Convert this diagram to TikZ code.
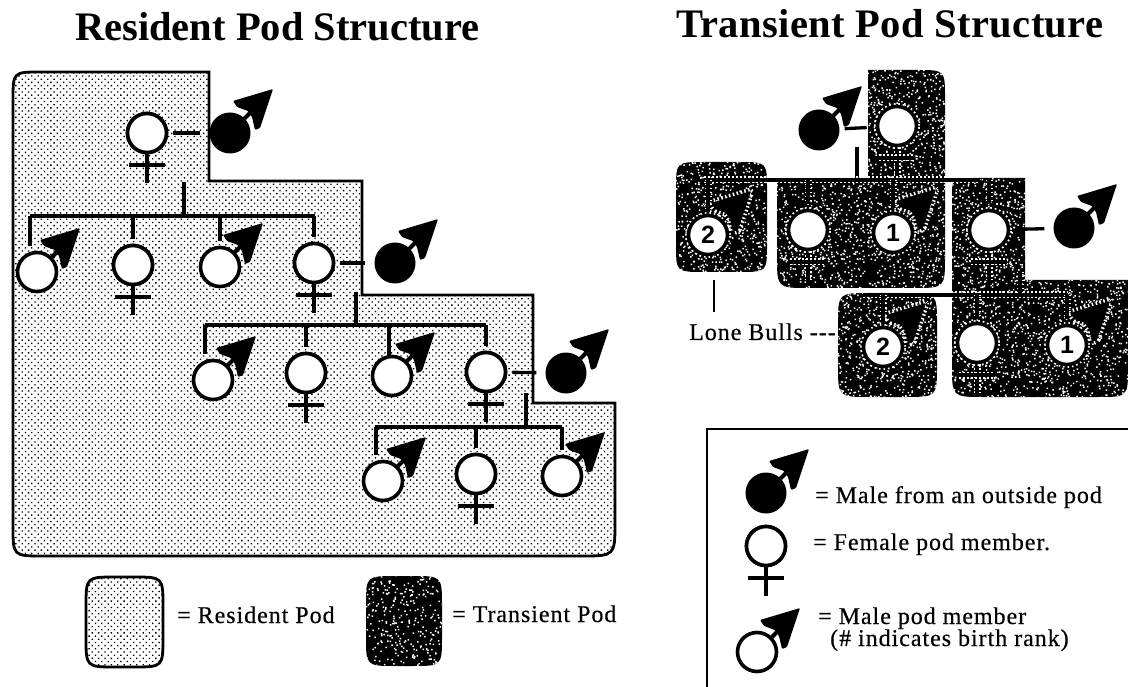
\documentclass[tikz,border=0pt]{standalone}
\usepackage{fontspec}
\setmainfont{Liberation Serif}
\newfontfamily\numfont{Liberation Sans}
\newfontfamily\legfont[LetterSpace=4,FakeBold=0.5]{Liberation Serif}
\newfontfamily\titlefont[LetterSpace=1]{Liberation Serif Bold}
\newfontfamily\titlefontb{Liberation Serif Bold}
\usetikzlibrary{patterns.meta}
\tikzset{
  symextra/.style={},
  haloed/.style={preaction={draw=white,line width=7pt,dash pattern=on 1.5pt off 2.5pt}},
  sym/.style={line width=4.2pt,black,symextra},
  linkline/.style={line width=3.3pt,black,symextra},
  dropline/.style={linkline,shorten >=5pt},
  spouse/.style={linkline,shorten <=5pt,shorten >=9pt},
  podcircle/.style={circle,draw=black,line width=3.6pt,fill=white,inner sep=0pt,minimum size=39pt,font=\numfont\bfseries\fontsize{25}{25}\selectfont,symextra},
  outsider/.style={circle,fill=black,inner sep=0pt,minimum size=41pt},
  residentfill/.style={pattern={Dots[distance=4.5pt,radius=0.95pt,angle=45]},pattern color=black},
  outline/.style={draw=black,line width=2.8pt},
  titletext/.style={font=\titlefont\fontsize{40.5}{40.5}\selectfont,anchor=base west,inner sep=0pt},
  titletextb/.style={font=\titlefontb\fontsize{40.5}{40.5}\selectfont,anchor=base west,inner sep=0pt},
  legendtext/.style={font=\legfont\fontsize{24}{24}\selectfont,anchor=base west,inner sep=0pt},
}
\newcommand{\malehead}[2]{%
  \begin{scope}[shift={(#1,#2)}]
    \draw[sym] (0,0) -- (25,-25);
    \fill[black,rounded corners=1pt,symextra] (43,-44) -- (3,-32) -- (7,-26) -- (18,-22) -- (22,-16) -- (25,-3) -- (30,-5) -- cycle;
  \end{scope}}
\newcommand{\fem}[3]{%
  \node[podcircle] (#1) at (#2,#3) {};
  \coordinate (#1end) at (#2,#3+50);
  \coordinate (#1bl) at (#2-18,#3+32);
  \coordinate (#1br) at (#2+18,#3+32);
  \draw[sym] (#1) -- (#1end);
  \node[podcircle] at (#1) {};
  \draw[sym] (#1bl) -- (#1br);}
\newcommand{\pmale}[4]{%
  \malehead{#2}{#3}
  \node[podcircle] (#1) at (#2,#3) {#4};}
\newcommand{\omale}[3]{%
  \malehead{#2}{#3}
  \node[outsider] (#1) at (#2,#3) {};}
\newcommand{\speckle}{%
  \pgfmathsetseed{4217}
  \foreach \j in {1,...,40}{\fill[white] \foreach \i in {1,...,200}{ ({665+rnd*463},{65+rnd*340}) rectangle ++(1.5,1.5) };}}
\newcommand{\speckleb}{%
  \pgfmathsetseed{88}
  \fill[white] \foreach \i in {1,...,320}{ ({362+rnd*84},{574+rnd*95}) rectangle ++(1.5,1.5) };}
\newcommand{\residentpath}{(13,100) .. controls (13,72) .. (41,72) -- (209,72) -- (209,181) -- (362,181) -- (362,295) -- (533,295) -- (533,403) -- (615,403) -- (615,522) .. controls (615,556) .. (581,556) -- (43,556) .. controls (13,556) .. (13,526) -- cycle}
\newcommand{\transpath}{%
  (868,70) -- (917,70) .. controls (945,70) .. (945,98) -- (945,256) .. controls (945,288) .. (913,288) -- (809,288) .. controls (777,288) .. (777,256) -- (777,180) -- (868,180) -- cycle
  (972,178) -- (1025,178) -- (1025,280) -- (1128,280) -- (1128,367) .. controls (1128,397) .. (1098,397) -- (984,397) .. controls (952,397) .. (952,365) -- (952,198) .. controls (952,178) .. (972,178) -- cycle
  (704,162) -- (739,162) .. controls (767,162) .. (767,190) -- (767,244) .. controls (767,272) .. (739,272) -- (704,272) .. controls (676,272) .. (676,244) -- (676,190) .. controls (676,162) .. (704,162) -- cycle
  (870,293) -- (905,293) .. controls (937,293) .. (937,325) -- (937,365) .. controls (937,397) .. (905,397) -- (870,397) .. controls (838,397) .. (838,365) -- (838,325) .. controls (838,293) .. (870,293) -- cycle}
\newcommand{\swatchA}{(116,577) -- (133,577) .. controls (163,577) .. (163,607) -- (163,637) .. controls (163,667) .. (133,667) -- (116,667) .. controls (86,667) .. (86,637) -- (86,607) .. controls (86,577) .. (116,577) -- cycle}
\newcommand{\swatchB}{(396,576) -- (412,576) .. controls (442,576) .. (442,606) -- (442,636) .. controls (442,666) .. (412,666) -- (396,666) .. controls (366,666) .. (366,636) -- (366,606) .. controls (366,576) .. (396,576) -- cycle}
\begin{document}
\begin{tikzpicture}[x=1pt,y=-1pt]
\useasboundingbox (0,0) rectangle (1128,687);
% titles
\node[titletextb] (t1) at (75,41) {Resident Pod Structure};
\node[titletext] (t2) at (676,38) {Transient Pod Structure};
% resident pod
\fill[white] \residentpath;
\path[residentfill] \residentpath;
\draw[outline] \residentpath;
\coordinate (d1t) at (184,182); \coordinate (d1b) at (184,216);
\coordinate (b1l) at (30,216); \coordinate (b1r) at (315,216);
\coordinate (d2t) at (356,292); \coordinate (d2b) at (356,325);
\coordinate (b2l) at (205,325); \coordinate (b2r) at (486,325);
\coordinate (d3t) at (526,393); \coordinate (d3b) at (526,427);
\coordinate (b3l) at (375,427); \coordinate (b3r) at (562,427);
\draw[linkline] (d1t) -- (d1b); \draw[linkline] (b1l) -- (b1r);
\draw[linkline] (d2t) -- (d2b); \draw[linkline] (b2l) -- (b2r);
\draw[linkline] (d3t) -- (d3b); \draw[linkline] (b3l) -- (b3r);
\fem{r0}{147}{133} \omale{x1}{230}{133}
\draw[spouse] (r0) -- (x1);
\pmale{m1}{37}{272}{} \fem{f1}{133}{265} \pmale{m2}{220}{267}{} \fem{f2}{314}{263}
\omale{x2}{395}{263} \draw[spouse] (f2) -- (x2);
\draw[dropline] (30,216) -- (30,251);
\draw[dropline] (f1 |- b1l) -- (f1.north);
\draw[dropline] (m2 |- b1l) -- (m2.north);
\draw[dropline] (f2 |- b1l) -- (f2.north);
\pmale{m3}{213}{380}{} \fem{f3}{306}{373} \pmale{m4}{392}{376}{} \fem{f4}{486}{372}
\omale{x3}{566}{373} \draw[spouse] (f4) -- (x3);
\draw[dropline] (205,325) -- (205,359);
\draw[dropline] (f3 |- b2l) -- (f3.north);
\draw[dropline] (389,325) -- (389,360);
\draw[dropline] (f4 |- b2l) -- (f4.north);
\pmale{m5}{383}{481}{} \fem{f5}{476}{474} \pmale{m6}{562}{476}{}
\draw[dropline] (376,427) -- (376,460);
\draw[dropline] (f5 |- b3l) -- (f5.north);
\draw[dropline] (m6 |- b3l) -- (m6.north);
% pod swatches
\fill[white] \swatchA; \path[residentfill] \swatchA; \draw[outline] \swatchA;
\node[legendtext] (l1) at (177,623) {= Resident Pod};
\fill[black] \swatchB;
\begin{scope} \clip \swatchB; \speckleb \end{scope}
\node[legendtext] (l2) at (452,622) {= Transient Pod};
% transient pod
\fill[black] \transpath;
\begin{scope} \clip \transpath; \speckle \end{scope}
\begin{scope}[symextra/.style=haloed]
\coordinate (e1t) at (857,147); \coordinate (e1b) at (857,180);
\coordinate (e2l) at (704,180); \coordinate (e2r) at (980,180);
\coordinate (e3l) at (863,295); \coordinate (e3r) at (1068,295);
\coordinate (e4t) at (1020,272); \coordinate (e4b) at (1020,295);
\draw[linkline] (e1t) -- (e1b); \draw[linkline] (e2l) -- (e2r); \draw[linkline] (e3l) -- (e3r);
\draw[linkline] (e4t) -- (e4b);
\fem{tf0}{897}{126} 
\pmale{tl1}{708}{235}{2} \fem{tf1}{808}{230} \pmale{tm1}{893}{233}{1}
\fem{tf2}{989}{230}
\draw[dropline] (tl1 |- e2l) -- (tl1.north);
\draw[dropline] (tf1 |- e2l) -- (tf1.north);
\draw[dropline] (tm1 |- e2l) -- (tm1.north);
\draw[dropline] (tf2 |- e2l) -- (tf2.north);
\pmale{tl2}{883}{347}{2} \fem{tf3}{977}{343} \pmale{tm2}{1067}{345}{1}
\draw[dropline] (tl2 |- e3l) -- (tl2.north);
\draw[dropline] (tf3 |- e3l) -- (tf3.north);
\draw[dropline] (tm2 |- e3l) -- (tm2.north);
\end{scope}
\omale{tx1}{819}{130} \draw[spouse] (tx1) -- (tf0);
\omale{tx2}{1074}{228} \draw[spouse] (tf2) -- (tx2);
% lone bulls
\node[legendtext,anchor=base west] (lone) at (689,340) {Lone Bulls -{}-{}-};
\coordinate (lt) at (714,280); \coordinate (lb) at (714,312);
\draw[line width=2.2pt] (lt) -- (lb);
% legend box
\coordinate (bx1) at (1128,429); \coordinate (bx2) at (707,429); \coordinate (bx3) at (707,687);
\draw[line width=2.4pt] (bx1) -- (bx2) -- (bx3);
\omale{k1}{766}{493}
\node[legendtext] (k1t) at (815,503) {= Male from an outside pod};
\fem{k2}{766}{546}
\node[legendtext] (k2t) at (813,550) {= Female pod member.};
\pmale{k3}{757}{652}{}
\node[legendtext] (k3t) at (818,624) {= Male pod member};
\node[legendtext] (k4t) at (830,646) {(\# indicates birth rank)};
\end{tikzpicture}
\end{document}
